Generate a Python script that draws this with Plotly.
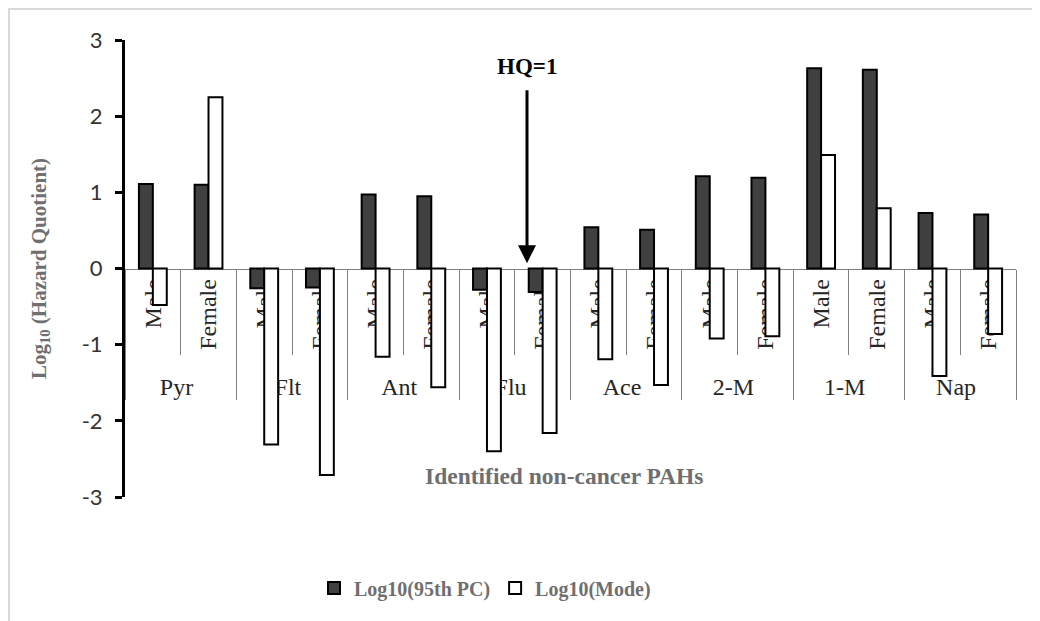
import plotly.graph_objects as go

groups = ["Pyr", "Flt", "Ant", "Flu", "Ace", "2-M", "1-M", "Nap"]
sexes = ["Male", "Female"]
pc95 = [1.11, 1.10, -0.26, -0.25, 0.97, 0.95, -0.28, -0.31,
        0.54, 0.51, 1.21, 1.19, 2.63, 2.61, 0.73, 0.71]
mode = [-0.48, 2.25, -2.31, -2.71, -1.16, -1.56, -2.40, -2.16,
        -1.19, -1.53, -0.92, -0.89, 1.49, 0.79, -1.41, -0.86]
y_ticks = [-3, -2, -1, 0, 1, 2, 3]

outer = [g for g in groups for _ in sexes]
inner = [s for _ in groups for s in sexes]

OFF = 8  # page body margin
W, H = 1032, 613
L, R, T, B = 117, 24, 32, 124
pw, ph = W - L - R, H - T - B


def px(x):
    return (x - OFF - L) / pw


def py(y):
    return (H - B - (y - OFF)) / ph


fig = go.Figure()
fig.add_trace(go.Bar(
    x=[outer, inner], y=pc95, name="Log10(95th PC)",
    marker=dict(color="#404040", line=dict(color="#000000", width=2)),
))
fig.add_trace(go.Bar(
    x=[outer, inner], y=mode, name="Log10(Mode)",
    marker=dict(color="#ffffff", line=dict(color="#000000", width=2)),
))

serif = "Liberation Serif, Times New Roman, serif"

fig.update_layout(
    width=W, height=H,
    margin=dict(l=L, r=R, t=T, b=B),
    paper_bgcolor="white", plot_bgcolor="white",
    barmode="group", bargap=0.5, bargroupgap=0,
    showlegend=True,
    legend=dict(orientation="h", x=px(314), xanchor="left", y=py(588), yanchor="middle",
                font=dict(family=serif, size=20, color="#6f6f6f", weight="bold"),
                itemwidth=30, traceorder="normal"),
    xaxis=dict(
        type="multicategory", anchor="free", position=0.5,
        showline=True, linecolor="#7f7f7f", linewidth=1,
        ticks="outside", ticklen=85, tickcolor="#7f7f7f", tickwidth=1,
        tickangle=-90,
        showdividers=True, dividercolor="#7f7f7f", dividerwidth=1,
        tickfont=dict(family=serif, size=24, color="#262626"),
        layer="below traces", showgrid=False, zeroline=False,
    ),
    yaxis=dict(
        range=[-3, 3], tickvals=y_ticks, ticktext=[str(v) for v in y_ticks],
        showline=True, linecolor="#000000", linewidth=3,
        ticks="outside", ticklen=7, tickwidth=3, tickcolor="#000000",
        ticklabelstandoff=8,
        tickfont=dict(family="Lato, Liberation Sans, sans-serif", size=22, color="#333333"),
        showgrid=False, zeroline=False,
        title=dict(text="Log<sub>10</sub> (Hazard Quotient)", standoff=30,
                   font=dict(family=serif, size=21, color="#6f6f6f", weight="bold")),
    ),
    shapes=[
        dict(type="rect", xref="paper", yref="paper", layer="below",
             x0=px(9), x1=px(1060), y0=py(9), y1=py(640),
             line=dict(color="#d9d9d9", width=2), fillcolor="rgba(0,0,0,0)"),
    ],
    annotations=[
        dict(text="<b>HQ=1</b>", xref="paper", yref="y", x=px(527), y=0.07,
             ax=0, ay=-197, showarrow=True, arrowhead=2, arrowsize=1.2,
             arrowwidth=3, arrowcolor="#000000", startstandoff=10,
             font=dict(family=serif, size=23, color="#000000")),
        dict(text="<b>Identified non-cancer PAHs</b>", xref="paper", yref="paper",
             x=px(564), y=py(476), showarrow=False, xanchor="center", yanchor="middle",
             font=dict(family=serif, size=23.5, color="#6f6f6f")),
    ],
)

fig.write_html("out.html")
